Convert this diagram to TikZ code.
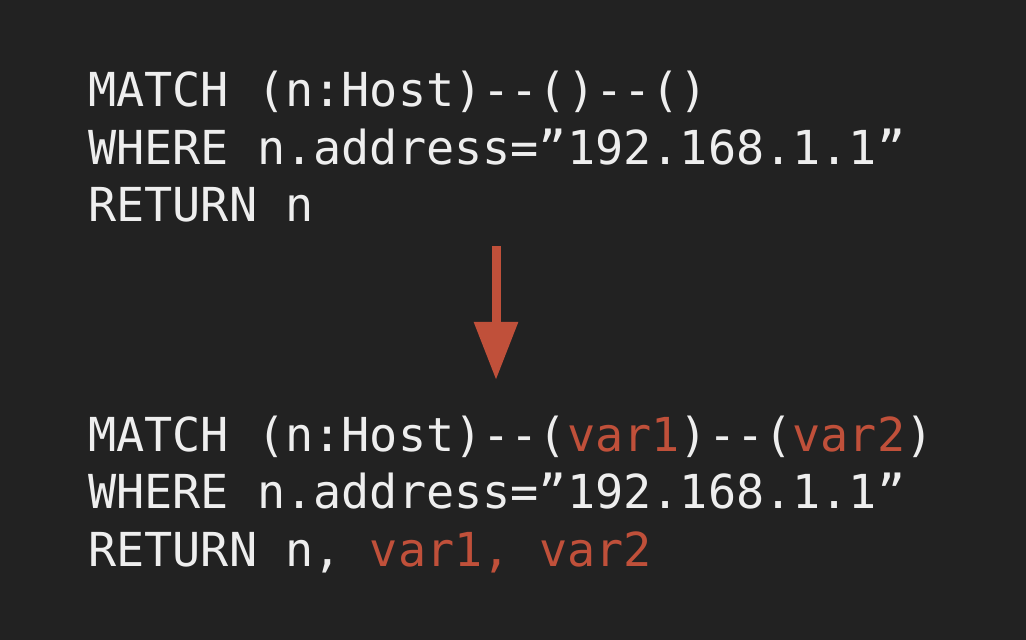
\documentclass[tikz,border=0pt]{standalone}
\usepackage{fontspec}
\setmonofont{DejaVu Sans Mono}
\usepackage{tikz}
\usepackage{xcolor}
\usetikzlibrary{arrows.meta}
\definecolor{DarkBack}{HTML}{222222}
\definecolor{CodeWhite}{HTML}{EEEEEE}
\definecolor{CodeRed}{HTML}{C0503A}
\tikzstyle{codeLine}=[anchor=base west, inner sep=0pt, text=CodeWhite, font=\ttfamily\fontsize{46.8}{56}\selectfont]
\tikzstyle{rewriteArrow}=[-{Triangle[width=42pt,length=58pt]}, line width=9pt, draw=CodeRed]
\newcommand{\newVar}[1]{\textcolor{CodeRed}{#1}}

\begin{document}
\begin{tikzpicture}[x=1pt,y=1pt]

        \fill[DarkBack] (0,0) rectangle (1026,640);

        % Original query
        \node[codeLine] (q1) at (88, 533) {MATCH (n:Host)--()--()};
        \node[codeLine] (q2) at (88, 475) {WHERE n.address=”192.168.1.1”};
        \node[codeLine] (q3) at (88, 418) {RETURN n};

        % Rewritten query
        \node[codeLine] (r1) at (88, 188) {MATCH (n:Host)--(\newVar{var1})--(\newVar{var2})};
        \node[codeLine] (r2) at (88, 131) {WHERE n.address=”192.168.1.1”};
        \node[codeLine] (r3) at (88, 73) {RETURN n, \newVar{var1, var2}};

        \coordinate (arrowTop) at (496, 394);
        \coordinate (arrowTip) at (496, 260);
    	\draw[rewriteArrow] (arrowTop) -- (arrowTip);

    \end{tikzpicture}
\end{document}
